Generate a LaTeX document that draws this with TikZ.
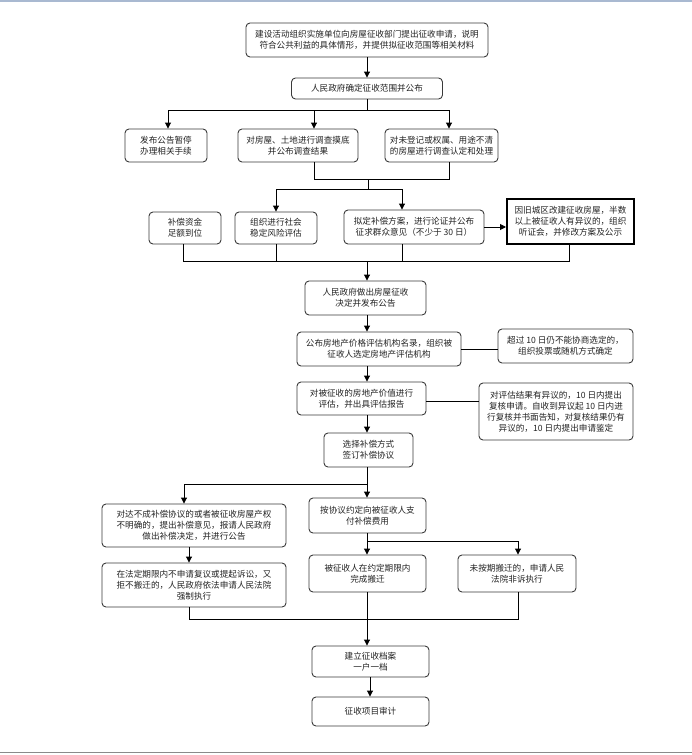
\documentclass[tikz,border=0pt]{standalone}
\usepackage{fontspec}
\newfontfamily\cjk{Noto Sans CJK SC}
\usetikzlibrary{arrows.meta}
\definecolor{boxc}{HTML}{3A3A3A}
\definecolor{txt}{HTML}{222222}
\definecolor{topc}{HTML}{A9B9D1}
\definecolor{botc}{HTML}{8A8A8A}
\tikzset{
  box/.style={draw=boxc, rounded corners=4pt, line width=0.9pt, align=center, inner sep=1pt,
    font=\cjk\fontsize{8.6}{11}\selectfont, text=txt},
  thickbox/.style={draw=black, line width=2pt, align=center, inner sep=1pt,
    font=\cjk\fontsize{8.6}{11}\selectfont, text=txt},
  conn/.style={draw=black, line width=0.9pt},
  arr/.style={conn, -{Triangle[length=6pt,width=6pt]}}
}
\begin{document}
\begin{tikzpicture}[x=1pt,y=1pt]
\useasboundingbox (0,0) rectangle (692,-755);
\draw[topc, line width=2pt] (0,-1) -- (692,-1);
\draw[botc, line width=1pt] (0,-752) -- (692,-752);

% nodes
\node[box, minimum width=242pt, minimum height=34pt] (b1) at (367,-40) {建设活动组织实施单位向房屋征收部门提出征收申请，说明\\符合公共利益的具体情形，并提供拟征收范围等相关材料};
\node[box, minimum width=151pt, minimum height=21pt] (b2) at (367,-88.5) {人民政府确定征收范围并公布};
\node[box, minimum width=82pt, minimum height=33pt] (bA) at (166,-145.5) {发布公告暂停\\办理相关手续};
\node[box, minimum width=120pt, minimum height=33pt] (bB) at (298,-145.5) {对房屋、土地进行调查摸底\\并公布调查结果};
\node[box, minimum width=113pt, minimum height=33pt] (bC) at (441.5,-145.5) {对未登记或权属、用途不清\\的房屋进行调查认定和处理};
\node[box, minimum width=72pt, minimum height=32pt] (bD) at (185,-228) {补偿资金\\足额到位};
\node[box, minimum width=82pt, minimum height=32pt] (bE) at (276,-228) {组织进行社会\\稳定风险评估};
\node[box, minimum width=140pt, minimum height=34pt] (bF) at (414,-227) {拟定补偿方案，进行论证并公布\\征求群众意见（不少于 30 日）};
\node[thickbox, minimum width=127pt, minimum height=45pt] (bG) at (570.5,-221.5) {因旧城区改建征收房屋，半数\\以上被征收人有异议的，组织\\听证会，并修改方案及公示};
\node[box, minimum width=121pt, minimum height=34pt] (bH) at (365.5,-298) {人民政府做出房屋征收\\决定并发布公告};
\node[box, minimum width=164pt, minimum height=34pt] (bI) at (379,-349) {公布房地产价格评估机构名录，组织被\\征收人选定房地产评估机构};
\node[box, minimum width=135pt, minimum height=34pt] (bJ) at (565.5,-346) {超过 10 日仍不能协商选定的，\\组织投票或随机方式确定};
\node[box, minimum width=129pt, minimum height=33pt] (bK) at (361.5,-398.5) {对被征收的房地产价值进行\\评估，并出具评估报告};
\node[box, minimum width=154pt, minimum height=57pt] (bL) at (556,-411.5) {对评估结果有异议的，10 日内提出\\复核申请。自收到异议起 10 日内进\\行复核并书面告知，对复核结果仍有\\异议的，10 日内提出申请鉴定};
\node[box, minimum width=89pt, minimum height=34pt] (bM) at (368.5,-450) {选择补偿方式\\签订补偿协议};
\node[box, minimum width=184pt, minimum height=43pt] (bN) at (194,-525.5) {对达不成补偿协议的或者被征收房屋产权\\不明确的，提出补偿意见，报请人民政府\\做出补偿决定，并进行公告};
\node[box, minimum width=184pt, minimum height=44pt] (bP) at (194,-585) {在法定期限内不申请复议或提起诉讼，又\\拒不搬迁的，人民政府依法申请人民法院\\强制执行};
\node[box, minimum width=117pt, minimum height=35pt] (bO) at (367.5,-515.5) {按协议约定向被征收人支\\付补偿费用};
\node[box, minimum width=117pt, minimum height=37pt] (bQ) at (367.5,-573.5) {被征收人在约定期限内\\完成搬迁};
\node[box, minimum width=118pt, minimum height=37pt] (bR) at (517,-573.5) {未按期搬迁的，申请人民\\法院非诉执行};
\node[box, minimum width=117pt, minimum height=31pt] (bS) at (370.5,-661.5) {建立征收档案\\一户一档};
\node[box, minimum width=117pt, minimum height=29pt] (bT) at (370.5,-711.5) {征收项目审计};

% coordinates
\coordinate (cx) at (367,0);
\coordinate (t1) at (168,-110);
\coordinate (t2) at (449,-110);
\coordinate (t3) at (314,-110);
\coordinate (u1) at (314,-179);
\coordinate (u2) at (449,-179);
\coordinate (u3) at (368,-179);
\coordinate (u4) at (368,-189);
\coordinate (v1) at (276,-189);
\coordinate (v2) at (402,-189);
\coordinate (w1) at (183,-261);
\coordinate (w4) at (569,-261);
\coordinate (kl) at (0,-401);
\coordinate (m1) at (184,-484);
\coordinate (np) at (189,0);
\coordinate (o1) at (518,-541);
\coordinate (z1) at (189,-619);
\coordinate (z2) at (518,-619);
\coordinate (st) at (370,0);

% connectors
\draw[arr] (cx |- b1.south) -- (cx |- b2.north);
\draw[conn] (cx |- b2.south) -- (cx |- t1);
\draw[conn] (t1) -- (t2);
\draw[arr] (t1) -- (t1 |- bA.north);
\draw[arr] (t3) -- (t3 |- bB.north);
\draw[arr] (t2) -- (t2 |- bC.north);
\draw[conn] (u1 |- bB.south) -- (u1) -- (u2) -- (u2 |- bC.south);
\draw[conn] (u3) -- (u4);
\draw[conn] (v1) -- (v2);
\draw[arr] (v1) -- (v1 |- bE.north);
\draw[arr] (v2) -- (v2 |- bF.north);
\draw[arr] (bF.east) -- (bG.west |- bF.east);
\draw[conn] (w1 |- bD.south) -- (w1) -- (w4) -- (w4 |- bG.south);
\draw[conn] (bE.south) -- (bE.south |- w1);
\draw[conn] (v2 |- bF.south) -- (v2 |- w1);
\draw[arr] (cx |- w1) -- (cx |- bH.north);
\draw[arr] (cx |- bH.south) -- (cx |- bI.north);
\draw[conn] (bI.east) -- (bJ.west |- bI.east);
\draw[arr] (cx |- bI.south) -- (cx |- bK.north);
\draw[conn] (bK.east |- kl) -- (bL.west |- kl);
\draw[arr] (cx |- bK.south) -- (cx |- bM.north);
\draw[conn] (cx |- bM.south) -- (cx |- m1) -- (m1);
\draw[arr] (m1) -- (m1 |- bN.north);
\draw[arr] (cx |- m1) -- (cx |- bO.north);
\draw[arr] (np |- bN.south) -- (np |- bP.north);
\draw[conn] (cx |- bO.south) -- (cx |- o1) -- (o1);
\draw[arr] (cx |- o1) -- (cx |- bQ.north);
\draw[arr] (o1) -- (o1 |- bR.north);
\draw[conn] (z1 |- bP.south) -- (z1) -- (z2) -- (z2 |- bR.south);
\draw[conn] (cx |- bQ.south) -- (cx |- z1);
\draw[arr] (cx |- z1) -- (cx |- bS.north);
\draw[arr] (st |- bS.south) -- (st |- bT.north);
\end{tikzpicture}
\end{document}
